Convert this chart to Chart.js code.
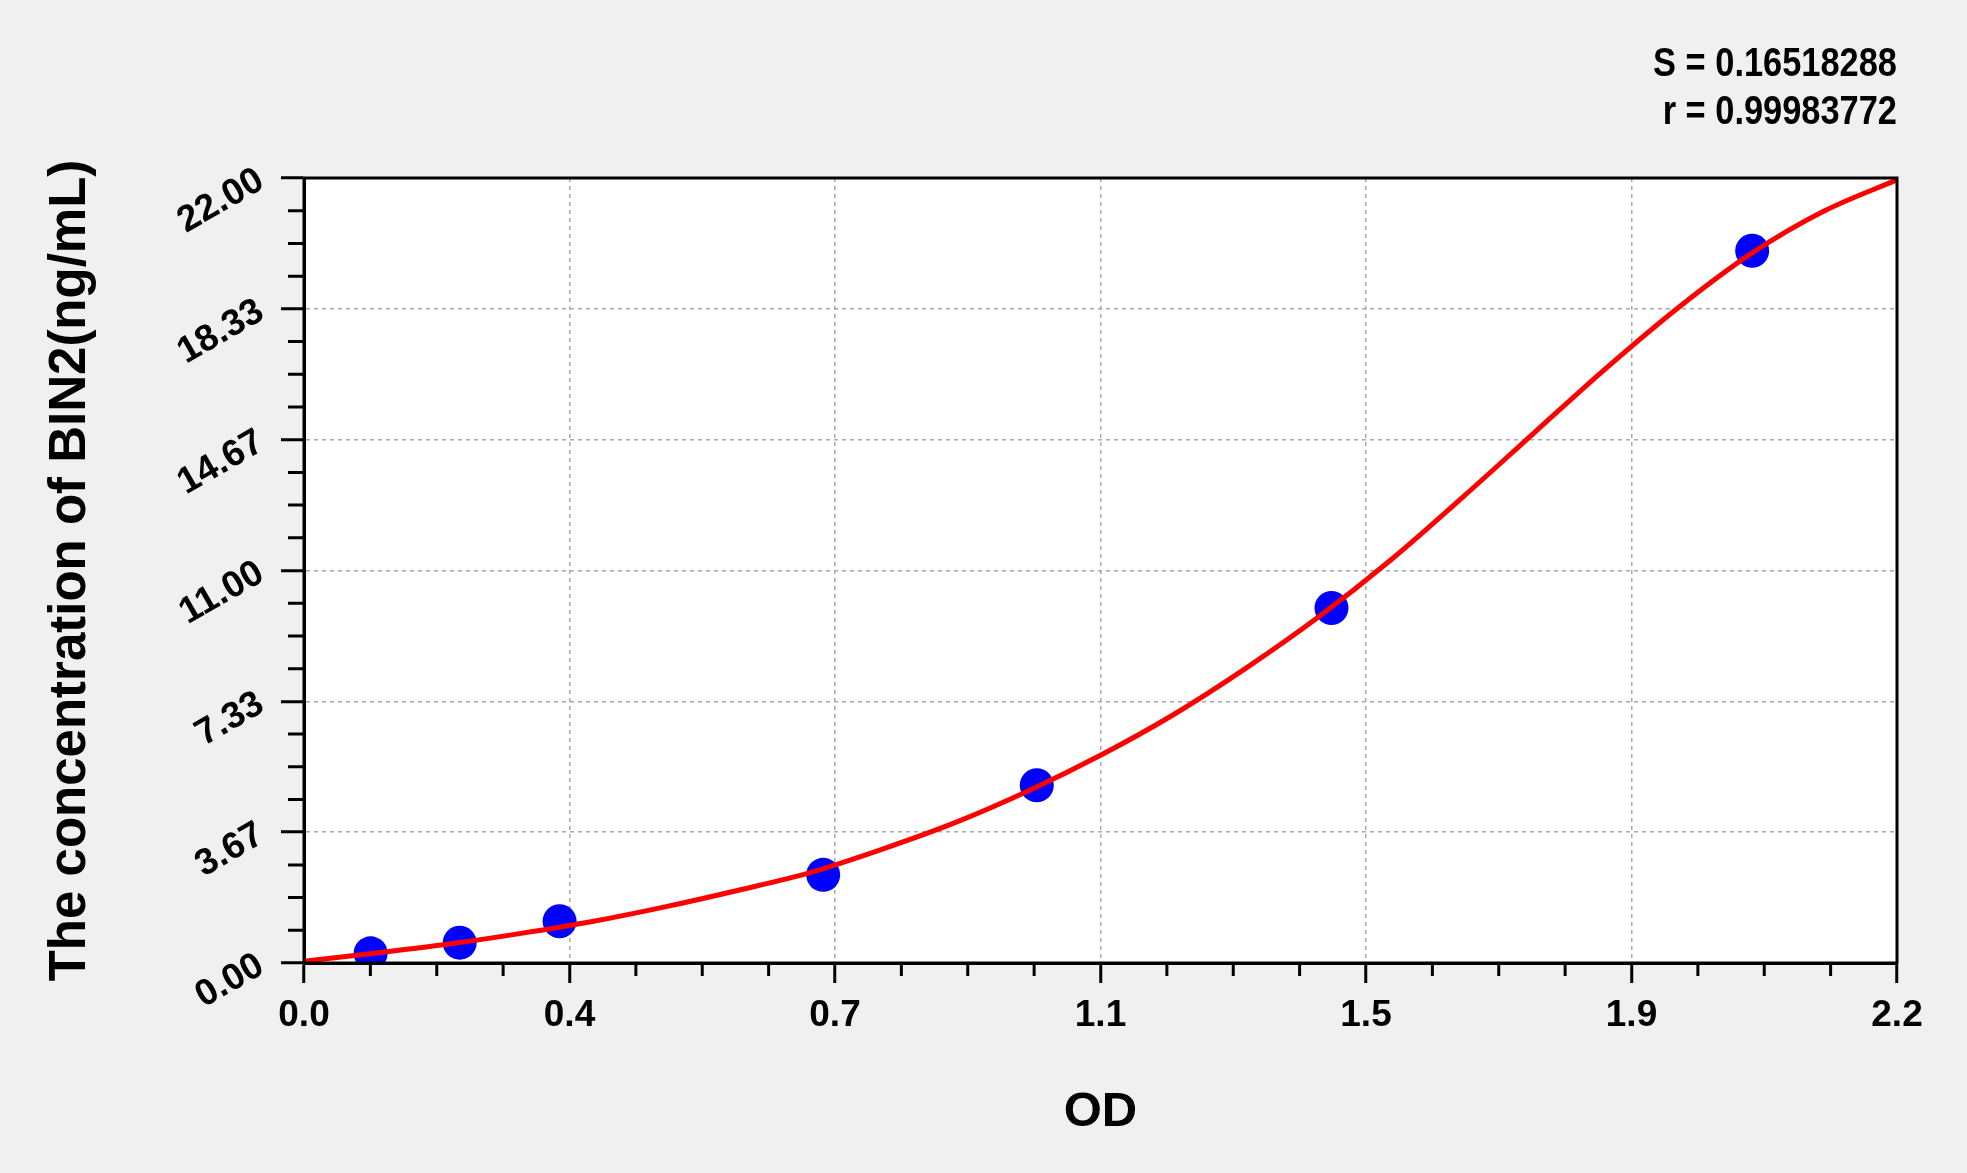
<!DOCTYPE html>
<html>
<head>
<meta charset="utf-8">
<title>BIN2 standard curve</title>
<script src="https://cdn.jsdelivr.net/npm/chart.js@4.4.1/dist/chart.umd.min.js"></script>
<style>
  html, body { margin: 0; padding: 0; background: #f0f0f0; }
  canvas { display: block; }
</style>
</head>
<body>
<canvas id="curveChart" width="1967" height="1173"></canvas>
<script>
// axis ranges and tick labels as printed on the plot
const X_MAX = 2.2;
const Y_MAX = 22;
const xTickLabels = ['0.0', '0.4', '0.7', '1.1', '1.5', '1.9', '2.2'];
const yTickLabels = ['0.00', '3.67', '7.33', '11.00', '14.67', '18.33', '22.00'];

// fitted curve
const curveOD = [0, 0.1, 0.2, 0.3, 0.4, 0.5, 0.6, 0.7, 0.8, 0.9, 1.0, 1.1,
  1.2, 1.3, 1.4, 1.5, 1.6, 1.7, 1.8, 1.9, 2.0, 2.1, 2.2];
const curveConc = [0.05, 0.28, 0.53, 0.83, 1.17, 1.58, 2.04, 2.54, 3.20, 3.94, 4.82, 5.82,
  6.95, 8.25, 9.68, 11.28, 13.05, 14.88, 16.70, 18.40, 19.90, 21.08, 21.95];

// standards (blue dots)
const stdOD = [0.092, 0.215, 0.353, 0.717, 1.012, 1.419, 2.000];
const stdConc = [0.27, 0.57, 1.17, 2.47, 4.98, 9.95, 19.96];

const statLines = ['S = 0.16518288', 'r = 0.99983772'];

const xMajor = xTickLabels.map((_, i) => X_MAX * i / (xTickLabels.length - 1));
const yMajor = yTickLabels.map((_, i) => Y_MAX * i / (yTickLabels.length - 1));

Chart.defaults.font.family = '"Liberation Sans", Arial, sans-serif';
Chart.defaults.color = '#000';

// background, plot frame, minor ticks and the S / r text
const framePlugin = {
  id: 'framePlugin',
  beforeDraw(chart) {
    const { ctx, chartArea: a } = chart;
    ctx.save();
    ctx.fillStyle = '#f0f0f0';
    ctx.fillRect(0, 0, chart.width, chart.height);
    ctx.fillStyle = '#ffffff';
    ctx.fillRect(a.left, a.top, a.right - a.left, a.bottom - a.top);
    ctx.restore();
  },
  afterDraw(chart) {
    const { ctx, chartArea: a } = chart;
    const xs = chart.scales.x, ys = chart.scales.y;
    ctx.save();
    ctx.strokeStyle = '#000';
    ctx.lineWidth = 3;
    ctx.strokeRect(a.left, a.top, a.right - a.left, a.bottom - a.top);

    // minor ticks, 4 per major interval
    ctx.beginPath();
    for (let i = 1; i < 24; i++) {
      if (i % 4 === 0) continue;
      const px = xs.getPixelForValue(X_MAX * i / 24);
      ctx.moveTo(px, a.bottom);
      ctx.lineTo(px, a.bottom + 13);
      const py = ys.getPixelForValue(Y_MAX * i / 24);
      ctx.moveTo(a.left, py);
      ctx.lineTo(a.left - 16, py);
    }
    ctx.stroke();

    // the stats text is a tall, narrow bold face: squeeze it sideways
    ctx.fillStyle = '#000';
    ctx.font = 'bold 40px "Liberation Sans", Arial, sans-serif';
    ctx.textAlign = 'right';
    ctx.textBaseline = 'middle';
    ctx.translate(a.right, 0);
    ctx.scale(0.86, 1);
    ctx.fillText(statLines[0], 0, 65);
    ctx.fillText(statLines[1], 0, 113);
    ctx.restore();
  }
};

const ctx = document.getElementById('curveChart').getContext('2d');
const curveChart = new Chart(ctx, {
  type: 'scatter',
  data: {
    datasets: [{
      type: 'line',
      label: 'Fit',
      data: curveOD.map((x, i) => ({ x: x, y: curveConc[i] })),
      borderColor: '#ff0000',
      borderWidth: 5,
      pointRadius: 0,
      cubicInterpolationMode: 'monotone',
      fill: false,
      order: 0
    }, {
      label: 'Standards',
      data: stdOD.map((x, i) => ({ x: x, y: stdConc[i] })),
      backgroundColor: '#0000ff',
      borderWidth: 0,
      pointRadius: 17,
      order: 1
    }]
  },
  options: {
    responsive: false,
    devicePixelRatio: 1,
    animation: false,
    layout: { padding: { top: 178, right: 70, left: 0, bottom: 0 } },
    plugins: { legend: { display: false }, tooltip: { enabled: false } },
    scales: {
      x: {
        type: 'linear',
        min: 0,
        max: X_MAX,
        afterBuildTicks: (scale) => { scale.ticks = xMajor.map(v => ({ value: v })); },
        afterFit: (scale) => { scale.height = 210; },
        ticks: {
          autoSkip: false,
          maxRotation: 0,
          padding: 11,
          font: { size: 37, weight: 'bold' },
          callback: (v, i) => xTickLabels[i]
        },
        grid: { color: '#a8a8a8', lineWidth: 1.5, tickLength: 20, tickColor: '#000', tickWidth: 3 },
        border: { color: '#000', width: 3, dash: [4, 4] },
        title: {
          display: true,
          text: 'OD',
          font: { size: 49, weight: 'bold' },
          padding: { top: 0, bottom: 31 }
        }
      },
      y: {
        type: 'linear',
        min: 0,
        max: Y_MAX,
        afterBuildTicks: (scale) => { scale.ticks = yMajor.map(v => ({ value: v })); },
        afterFit: (scale) => { scale.width = 304; },
        ticks: {
          autoSkip: false,
          minRotation: 30,
          maxRotation: 30,
          padding: 20,
          font: { size: 37, weight: 'bold' },
          callback: (v, i) => yTickLabels[i]
        },
        grid: { color: '#a8a8a8', lineWidth: 1.5, tickLength: 23, tickColor: '#000', tickWidth: 3 },
        border: { color: '#000', width: 3, dash: [4, 4] },
        title: {
          display: true,
          text: 'The concentration of BIN2(ng/mL)',
          font: { size: 51, weight: 'bold' },
          padding: { top: 40, bottom: 0 }
        }
      }
    }
  },
  plugins: [framePlugin]
});
</script>
</body>
</html>
